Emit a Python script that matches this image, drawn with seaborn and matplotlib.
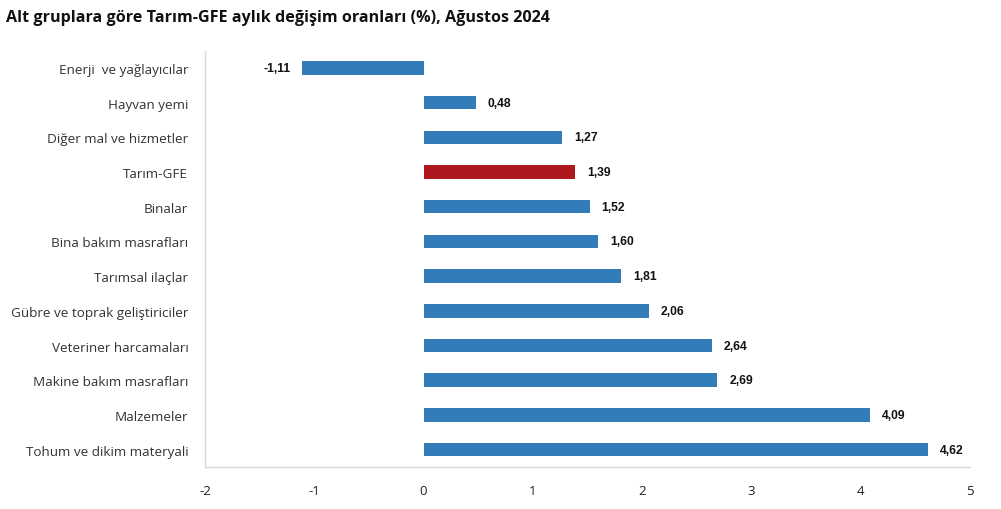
import matplotlib
matplotlib.use("Agg")
import matplotlib.pyplot as plt
import seaborn as sns
import pandas as pd

categories = ["Enerji  ve yağlayıcılar", "Hayvan yemi", "Diğer mal ve hizmetler", "Tarım-GFE",
              "Binalar", "Bina bakım masrafları", "Tarımsal ilaçlar",
              "Gübre ve toprak geliştiriciler", "Veteriner harcamaları",
              "Makine bakım masrafları", "Malzemeler", "Tohum ve dikim materyali"]
values = [-1.11, 0.48, 1.27, 1.39, 1.52, 1.60, 1.81, 2.06, 2.64, 2.69, 4.09, 4.62]
labels = ["-1,11", "0,48", "1,27", "1,39", "1,52", "1,60", "1,81", "2,06", "2,64", "2,69", "4,09", "4,62"]
xticks = [-2, -1, 0, 1, 2, 3, 4, 5]

sns.set_theme(style="white")
plt.rcParams['font.family'] = ['Open Sans', 'DejaVu Sans']

df = pd.DataFrame({"cat": categories, "val": values,
                   "grp": ["total" if c == "Tarım-GFE" else "sub" for c in categories]})
palette = {"sub": "#337CBA", "total": "#AF171E"}

fig = plt.figure(figsize=(10.01, 5.10), dpi=100)
ax = fig.add_axes([0.2048, 0.0824, 0.764, 0.8166])
sns.barplot(data=df, x="val", y="cat", hue="grp", palette=palette, dodge=False,
            width=0.39, legend=False, ax=ax, orient="h", saturation=1, linewidth=0)

ax.set_xlim(-2, 5)
ax.set_xticks(xticks)
ax.set_xticklabels([str(t) for t in xticks], fontsize=9.5, color="#222222")
ax.set_xlabel("")
ax.set_ylabel("")
ax.tick_params(axis="y", labelsize=9.7, colors="#333333", pad=12, length=0)
ax.tick_params(axis="x", pad=12, length=0)
for s in ["top", "right"]:
    ax.spines[s].set_visible(False)
for s in ["left", "bottom"]:
    ax.spines[s].set_color("#D9D9D9")
    ax.spines[s].set_linewidth(1)

for i, (v, l) in enumerate(zip(values, labels)):
    if v >= 0:
        ax.text(v + 0.11, i, l, va="center", ha="left", fontsize=8.7, fontweight="bold",
                family=["Liberation Sans", "DejaVu Sans"], color="#111111")
    else:
        ax.text(v - 0.11, i, l, va="center", ha="right", fontsize=8.7, fontweight="bold",
                family=["Liberation Sans", "DejaVu Sans"], color="#111111")

fig.text(0.006, 0.965, "Alt gruplara göre Tarım-GFE aylık değişim oranları (%), Ağustos 2024",
         fontsize=11.6, fontweight="bold", ha="left", va="center", color="#111111")

fig.savefig("out.png", dpi=100)
